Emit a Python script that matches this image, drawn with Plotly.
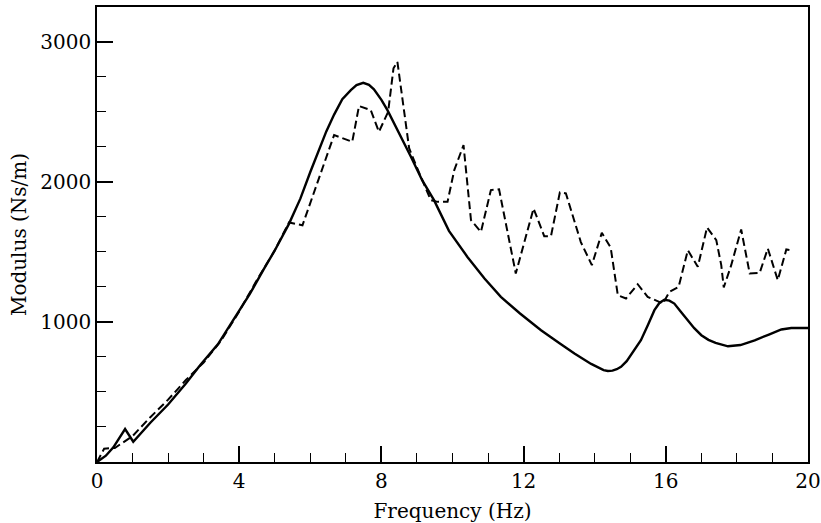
import plotly.graph_objects as go

# Model (solid line)
freq_model = [0, 0.25, 0.46, 0.79, 1.02, 1.5, 2.0, 2.5, 2.9, 3.4, 3.8, 4.3, 4.7, 5.0, 5.4,
              5.72, 6.0, 6.2, 6.45, 6.67, 6.9, 7.14, 7.3, 7.49, 7.65, 7.79, 8.0, 8.17, 8.5,
              8.83, 9.15, 9.48, 9.9, 10.42, 10.9, 11.36, 11.9, 12.49, 13.0, 13.43, 13.9,
              14.1, 14.25, 14.37, 14.5, 14.62, 14.74, 14.9, 15.1, 15.3, 15.5, 15.68, 15.82,
              15.96, 16.1, 16.24, 16.4, 16.62, 16.8, 17.0, 17.2, 17.4, 17.75, 18.1, 18.5,
              18.9, 19.25, 19.53, 19.8, 20.0]
mod_model = [0, 45, 105, 235, 145, 280, 410, 560, 690, 840, 1000, 1200, 1380, 1510, 1700,
             1880, 2070, 2200, 2360, 2480, 2590, 2655, 2690, 2707, 2692, 2660, 2585, 2512, 2350,
             2179, 2010, 1869, 1650, 1464, 1310, 1179, 1060, 941, 850, 774, 700,
             672, 656, 650, 652, 662, 679, 720, 790, 869, 980, 1084, 1135,
             1158, 1152, 1131, 1080, 1012, 955, 905, 872, 850, 826, 835, 869,
             910, 946, 957, 957, 957]

# Measurement (dashed line)
freq_meas = [0, 0.2, 0.5, 1.0, 1.5, 2.0, 2.5, 3.0, 3.5, 4.0, 4.5, 5.0, 5.4, 5.78, 6.67,
             7.18, 7.37, 7.70, 7.93, 8.19, 8.34, 8.45, 8.78, 8.97, 9.39, 9.58, 9.86, 10.05,
             10.31, 10.52, 10.80, 11.08, 11.31, 11.78, 12.28, 12.58, 12.77, 13.02, 13.19,
             13.61, 13.92, 14.2, 14.45, 14.65, 14.88, 15.21, 15.49, 15.92, 16.1, 16.36,
             16.62, 16.9, 17.16, 17.42, 17.56, 17.63, 17.84, 18.12, 18.36, 18.64, 18.87,
             19.15, 19.39, 19.51]
mod_meas = [0, 95, 100, 185, 320, 445, 585, 710, 870, 1075, 1300, 1510, 1710, 1690, 2334,
            2286, 2541, 2512, 2357, 2500, 2810, 2857, 2240, 2120, 1869, 1857, 1857, 2084,
            2262, 1726, 1643, 1941, 1946, 1346, 1810, 1612, 1612, 1925, 1917,
            1570, 1405, 1636, 1530, 1191, 1167, 1269, 1179, 1131, 1214, 1250,
            1512, 1393, 1674, 1584, 1405, 1246, 1405, 1660, 1346, 1350, 1524,
            1298, 1517, 1512]

x_ticks = [0, 4, 8, 12, 16, 20]
y_ticks = [1000, 2000, 3000]

fig = go.Figure()
fig.add_trace(go.Scatter(x=freq_meas, y=mod_meas, mode="lines",
                         line=dict(color="black", width=2, dash="8px,4px"),
                         showlegend=False))
fig.add_trace(go.Scatter(x=freq_model, y=mod_model, mode="lines",
                         line=dict(color="black", width=2.4),
                         showlegend=False))

font = dict(family="DejaVu Serif", size=20, color="black")

fig.update_layout(
    width=821, height=523,
    margin=dict(l=97, r=13, t=7, b=61),
    paper_bgcolor="white", plot_bgcolor="white",
    font=font,
    xaxis=dict(range=[0, 20], tickvals=x_ticks, ticktext=[str(v) for v in x_ticks],
               ticks="inside", ticklen=16, tickwidth=1.5, tickcolor="black",
               minor=dict(dtick=1, ticks="inside", ticklen=9, tickwidth=1.3, tickcolor="black"),
               showline=True, linecolor="black", linewidth=1.5, mirror=True,
               showgrid=False, zeroline=False, automargin=False,
               title=dict(text="Frequency (Hz)", font=font, standoff=14)),
    yaxis=dict(range=[0, 3248], tickvals=y_ticks, ticktext=[str(v) for v in y_ticks],
               ticks="inside", ticklen=16, tickwidth=1.5, tickcolor="black",
               minor=dict(dtick=250, ticks="inside", ticklen=9, tickwidth=1.3, tickcolor="black"),
               showline=True, linecolor="black", linewidth=1.5, mirror=True,
               showgrid=False, zeroline=False, automargin=False,
               title=dict(text="Modulus (Ns/m)", font=font, standoff=8)),
)

fig.write_html("out.html", config={"displayModeBar": False},
               post_script="document.body.style.margin='0px';")
